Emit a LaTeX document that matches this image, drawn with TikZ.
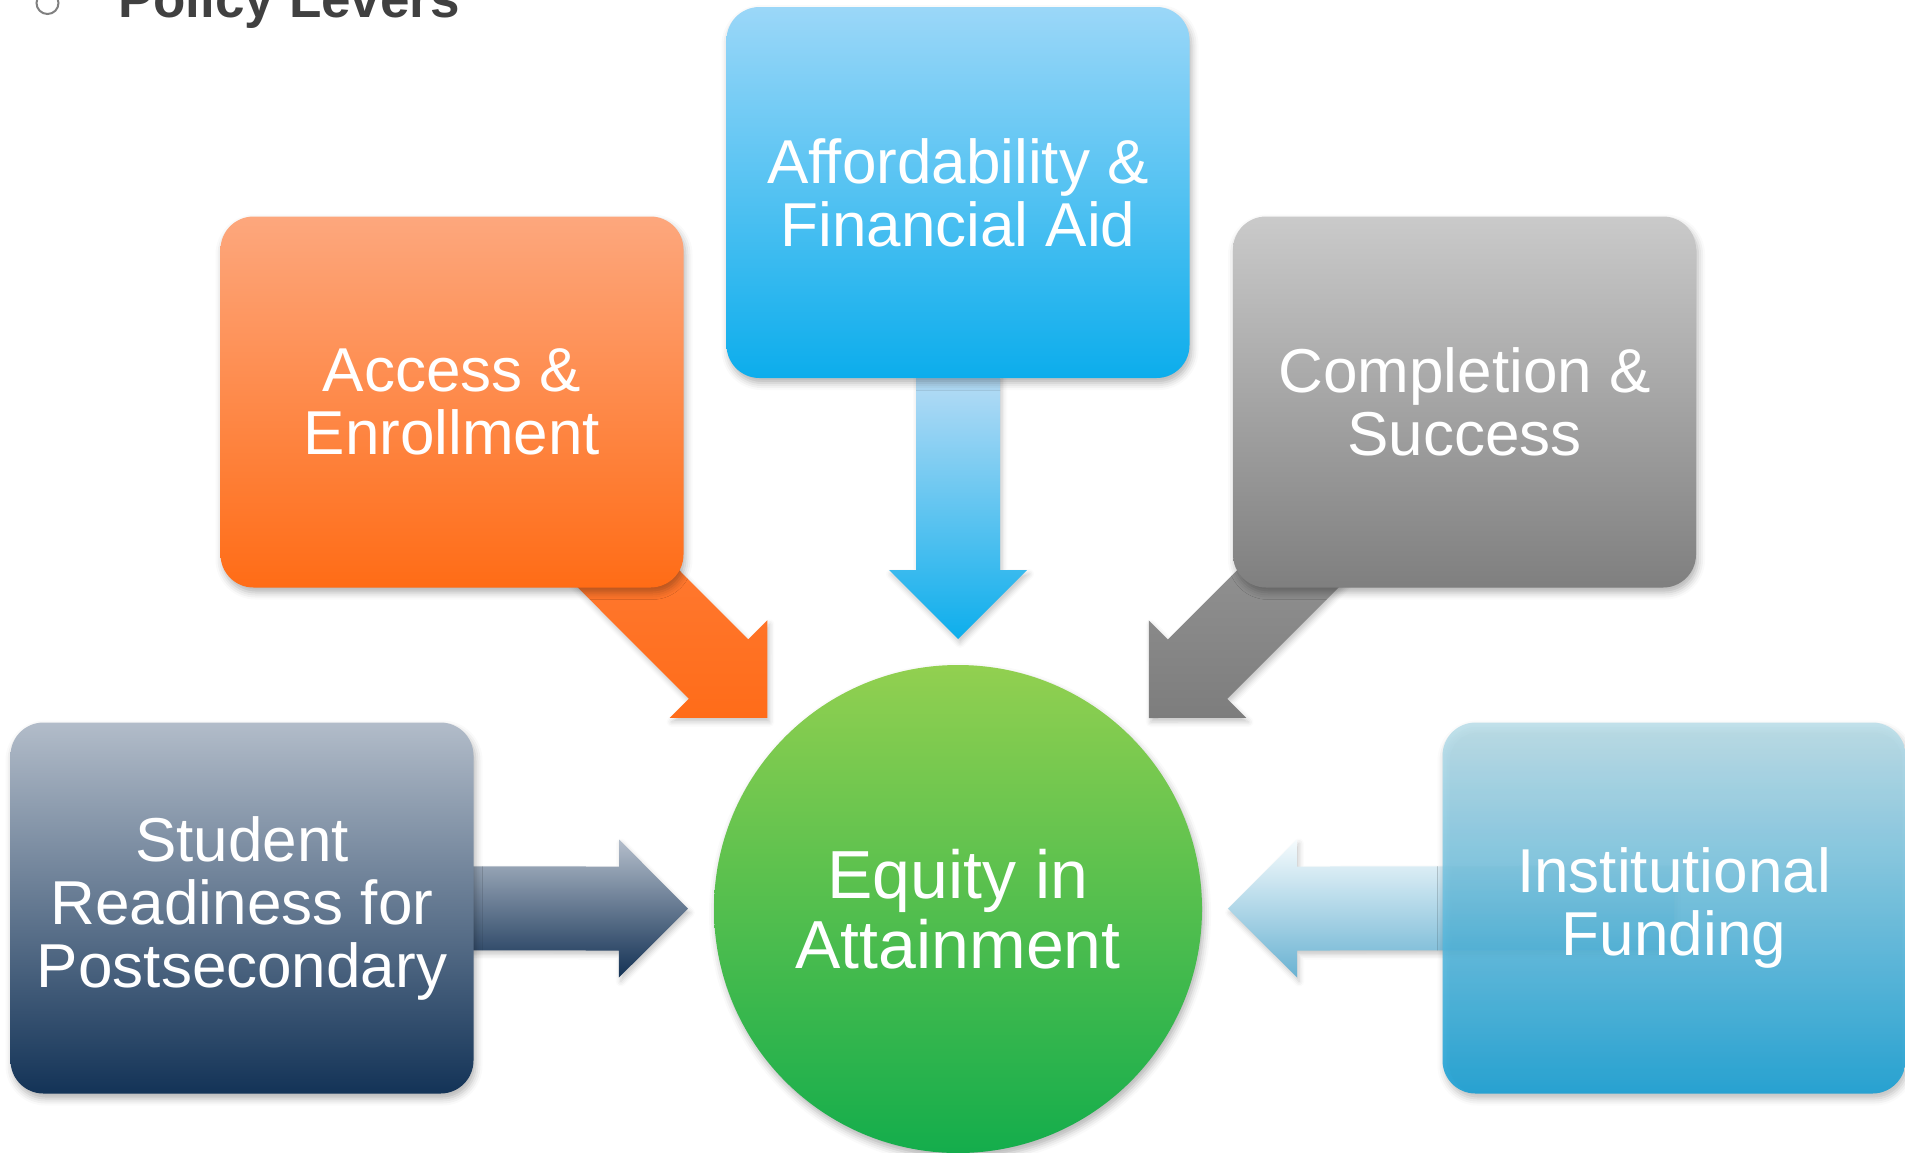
\documentclass[tikz,border=0pt]{standalone}
\usepackage{fontspec}
\setmainfont{Liberation Sans}
\usetikzlibrary{calc,shadows.blur}
\pgfdeclarelayer{background}
\pgfsetlayers{background,main}

\definecolor{affTop}{RGB}{155,215,248}
\definecolor{affBot}{RGB}{12,173,236}
\definecolor{accTop}{RGB}{253,167,125}
\definecolor{accBot}{RGB}{255,108,22}
\definecolor{comTop}{RGB}{202,202,202}
\definecolor{comBot}{RGB}{127,127,127}
\definecolor{stuTop}{RGB}{178,188,201}
\definecolor{stuBot}{RGB}{19,51,87}
\definecolor{insTop}{RGB}{186,222,234}
\definecolor{insBot}{RGB}{15,157,212}
\definecolor{eqTop}{RGB}{146,208,80}
\definecolor{eqBot}{RGB}{20,173,76}
\definecolor{titleGray}{RGB}{64,64,64}
\definecolor{bulletGray}{RGB}{128,128,128}

\newcommand{\blockarrow}[3]{%
  \coordinate (BAs) at (#1);
  \coordinate (BAt) at ($(#2.center)!270pt!(BAs)$);
  \coordinate (BAh) at ($(BAt)!69pt!(BAs)$);
  \path[#3] ($(BAs)!42pt!90:(BAt)$) -- ($(BAh)!42pt!90:(BAt)$)
     -- ($(BAh)!69pt!90:(BAt)$) -- (BAt) -- ($(BAh)!69pt!-90:(BAt)$)
     -- ($(BAh)!42pt!-90:(BAt)$) -- ($(BAs)!42pt!-90:(BAt)$) -- cycle;
}

\tikzset{
  softshadow/.style={blur shadow={shadow xshift=2pt, shadow yshift=-5pt,
      shadow blur radius=7pt, shadow opacity=30}},
  arrowshadow/.style={blur shadow={shadow xshift=2pt, shadow yshift=-4pt,
      shadow blur radius=5pt, shadow opacity=22}},
  lever/.style={rectangle, rounded corners=33pt, minimum width=463pt,
      minimum height=371pt, inner sep=0pt, text=white, align=center,
      font=\fontsize{62}{63}\selectfont, softshadow},
  goal/.style={circle, minimum size=488pt, inner sep=0pt, text=white,
      align=center, font=\fontsize{68}{70}\selectfont, softshadow},
  titletext/.style={font=\bfseries\fontsize{53}{60}\selectfont,
      text=titleGray, inner sep=0pt},
}

\begin{document}
\begin{tikzpicture}[x=1pt,y=-1pt]
\useasboundingbox (0,0) rectangle (1905,1152);

% title
\node[circle, draw=bulletGray, line width=2pt, minimum size=22pt,
      inner sep=0pt] (bullet) at (47.5,3) {};
\node[titletext, anchor=base west] (title) at (118,17) {Policy Levers};

% boxes
\node[lever, top color=affTop, bottom color=affBot] (afford) at (958,192.5)
  {Affordability \&\\Financial Aid};
\node[lever, top color=accTop, bottom color=accBot] (access) at (452,402)
  {Access \&\\Enrollment};
\node[lever, top color=comTop, bottom color=comBot] (complete) at (1464.5,402)
  {Completion \&\\Success};
\node[lever, top color=stuTop, bottom color=stuBot] (student) at (242,908)
  {Student\\Readiness for\\Postsecondary};
\node[lever, top color=insTop, bottom color=insBot, fill opacity=0.86,
      text opacity=1] (instit) at (1674,908)
  {Institutional\\Funding};

% centre
\node[goal, top color=eqTop, bottom color=eqBot] (equity) at (958,909)
  {Equity in\\Attainment};

\coordinate (afffoot) at ($(afford.south)+(0,-4)$);

\begin{pgfonlayer}{background}
\blockarrow{afffoot}{equity}{arrowshadow, top color={rgb,255:red,184;green,220;blue,245}, bottom color={rgb,255:red,13;green,174;blue,236}}
\blockarrow{access.center}{equity}{arrowshadow, top color={rgb,255:red,255;green,135;blue,75}, bottom color={rgb,255:red,255;green,108;blue,25}}
\blockarrow{complete.center}{equity}{arrowshadow, top color={rgb,255:red,168;green,168;blue,168}, bottom color={rgb,255:red,125;green,125;blue,125}}
\blockarrow{student.center}{equity}{arrowshadow, top color={rgb,255:red,180;green,190;blue,203}, bottom color={rgb,255:red,19;green,49;blue,84}}
\blockarrow{instit.center}{equity}{arrowshadow, top color={rgb,255:red,246;green,251;blue,253}, bottom color={rgb,255:red,105;green,178;blue,210}}
\end{pgfonlayer}
\end{tikzpicture}
\end{document}
